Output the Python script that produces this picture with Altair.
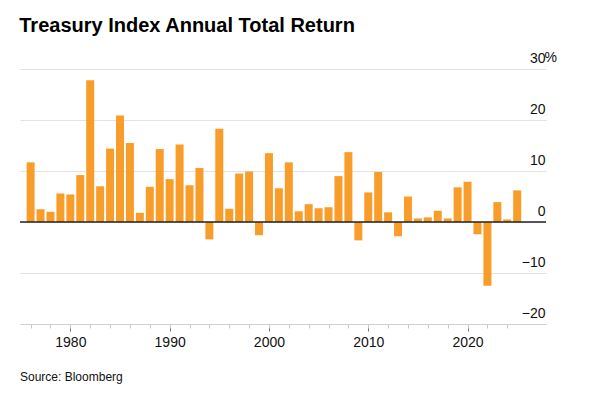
import altair as alt
import pandas as pd

years = list(range(1976, 2026))
returns = [11.7, 2.5, 2.0, 5.6, 5.4, 9.2, 27.8, 7.0, 14.4, 20.9,
           15.5, 1.8, 6.9, 14.3, 8.4, 15.2, 7.2, 10.6, -3.4, 18.3,
           2.6, 9.5, 9.9, -2.6, 13.5, 6.6, 11.7, 2.1, 3.5, 2.7,
           2.9, 9.0, 13.7, -3.6, 5.8, 9.8, 1.9, -2.8, 5.0, 0.7,
           0.9, 2.2, 0.7, 6.8, 7.9, -2.4, -12.5, 3.9, 0.5, 6.2]

major_years = [1980, 1990, 2000, 2010, 2020]
minor_years = list(range(1976, 2026, 2))
y_ticks = [-20, -10, 0, 10, 20, 30]

title_text = "Treasury Index Annual Total Return"
source_text = "Source: Bloomberg"

df = pd.DataFrame({"year": years, "ret": returns})

W = 526
H = 255
FONT = "Liberation Sans"
ORANGE = "#F99D2A"

xscale = alt.Scale(domain=[1974.93, 2027.9], nice=False, zero=False, padding=0)
yscale = alt.Scale(domain=[-20, 30], nice=False)

yaxis = alt.Axis(orient="right", values=y_ticks, domain=False,
                 ticks=False, grid=True, gridColor="#e2e2e2",
                 gridWidth=1, labelAlign="right",
                 labelBaseline="alphabetic", labelOffset=-7,
                 labelPadding=-1, labelFontSize=14, labelFont=FONT,
                 labelColor="#111", format="d")

base = alt.Chart(df)

bars = base.mark_bar(size=8, color=ORANGE).encode(
    x=alt.X("year:Q", scale=xscale, title=None,
            axis=alt.Axis(orient="bottom", values=major_years, format="d",
                          tickSize=7, tickColor="#777", tickWidth=1,
                          domain=True, domainColor="#cfcfcf", domainWidth=1,
                          grid=False, labelFontSize=14, labelFont=FONT,
                          labelColor="#111", labelPadding=4)),
    y=alt.Y("ret:Q", scale=yscale, title=None, axis=yaxis),
)

minor = base.mark_rule(opacity=0).encode(
    x=alt.X("year:Q", scale=xscale, title=None,
            axis=alt.Axis(orient="bottom", values=minor_years, tickSize=4,
                          tickColor="#c8c8c8", labels=False, domain=False,
                          grid=False)),
)

zero = alt.Chart(pd.DataFrame({"v": [0]})).mark_rule(
    color="#222", strokeWidth=1.5).encode(
    y=alt.Y("v:Q", scale=yscale, title=None, axis=yaxis),
    x=alt.value(0), x2=alt.value(W),
)

pct = alt.Chart(pd.DataFrame({"v": [30], "t": ["%"]})).mark_text(
    align="left", baseline="alphabetic", dy=-7, fontSize=14, font=FONT,
    color="#111").encode(
    y=alt.Y("v:Q", scale=yscale, title=None, axis=yaxis),
    x=alt.value(W - 1.5),
    text="t:N",
)

source = alt.Chart(pd.DataFrame({"t": [source_text]})).mark_text(
    align="left", baseline="alphabetic", fontSize=12, font=FONT,
    color="#111").encode(
    x=alt.value(0), y=alt.value(H + 57), text="t:N",
)

chart = alt.layer(bars, minor, zero, pct, source).resolve_axis(
    x="independent").properties(
    width=W, height=H,
    title=alt.TitleParams(title_text, anchor="start", fontSize=20,
                          fontWeight="bold", font=FONT, color="#000",
                          offset=15),
    padding={"left": 11, "top": 8, "right": 5, "bottom": 5},
).configure_view(stroke=None)

chart.save("out.html", embed_options={"renderer": "svg", "actions": False})
